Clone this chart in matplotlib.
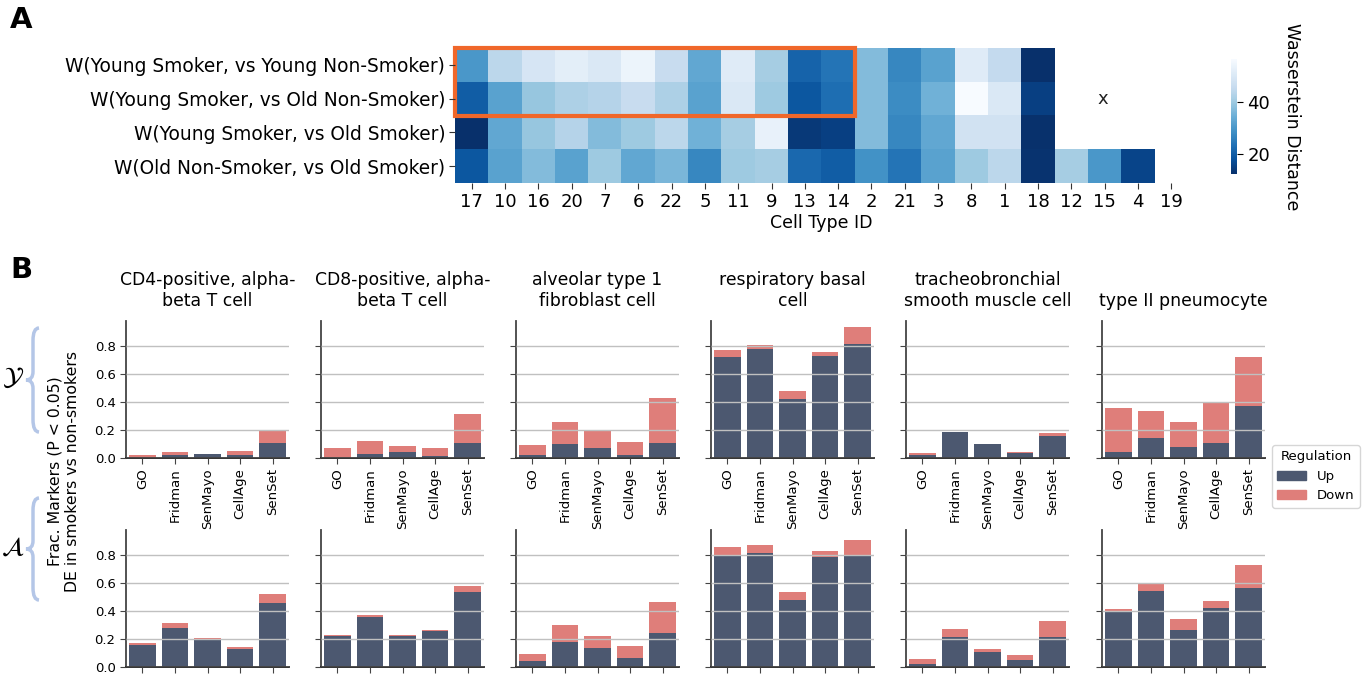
import numpy as np
import matplotlib
matplotlib.use("Agg")
import matplotlib.pyplot as plt
from matplotlib.patches import Rectangle, PathPatch, Patch
from matplotlib.path import Path

nan = np.nan

# Panel A : Wasserstein distances per cell type

cell_ids = ["17", "10", "16", "20", "7", "6", "22", "5", "11", "9", "13", "14",
            "2", "21", "3", "8", "1", "18", "12", "15", "4", "19"]
row_labels = ["W(Young Smoker, vs Young Non-Smoker)",
              "W(Young Smoker, vs Old Non-Smoker)",
              "W(Young Smoker, vs Old Smoker)",
              "W(Old Non-Smoker, vs Old Smoker)"]
w_ys_yns = [30, 44, 49, 52, 50, 54, 46, 33, 51, 41, 21, 24, 37, 27, 32, 51, 45, 12.4, nan, nan, nan, nan]
w_ys_ons = [20, 32, 39, 42, 43, 46, 42, 32, 50, 40, 19, 23, 37, 28, 35, 56.3, 50, 15, nan, nan, nan, nan]
w_ys_os = [12.5, 33, 39, 43, 37, 40, 44, 35, 41, 53, 14, 15, 37, 27, 33, 48, 48, 12.6, nan, nan, nan, nan]
w_ons_os = [19, 32, 37, 32, 40, 33, 36, 27, 40, 41, 22, 20, 29, 24, 32, 40, 44, 13, 41, 30, 16, nan]

# Panel B : fraction of DE markers

gene_sets = ["GO", "Fridman", "SenMayo", "CellAge", "SenSet"]
cell_types = ["CD4-positive, alpha-\nbeta T cell", "CD8-positive, alpha-\nbeta T cell",
              "alveolar type 1\nfibroblast cell", "respiratory basal\ncell",
              "tracheobronchial\nsmooth muscle cell", "type II pneumocyte"]
young_up = [[0.0, 0.024, 0.031, 0.024, 0.11],
            [0.0, 0.031, 0.045, 0.017, 0.11],
            [0.024, 0.103, 0.074, 0.024, 0.11],
            [0.726, 0.783, 0.425, 0.733, 0.819],
            [0.024, 0.189, 0.103, 0.038, 0.16],
            [0.045, 0.146, 0.081, 0.11, 0.375]]
young_down = [[0.024, 0.021, 0.0, 0.029, 0.086],
              [0.074, 0.093, 0.043, 0.057, 0.208],
              [0.072, 0.157, 0.122, 0.093, 0.322],
              [0.05, 0.022, 0.057, 0.022, 0.115],
              [0.014, 0.0, 0.0, 0.007, 0.021],
              [0.316, 0.193, 0.179, 0.286, 0.351]]
old_up = [[0.158, 0.279, 0.193, 0.129, 0.458],
          [0.222, 0.358, 0.222, 0.258, 0.537],
          [0.043, 0.179, 0.136, 0.064, 0.244],
          [0.795, 0.817, 0.48, 0.788, 0.795],
          [0.021, 0.215, 0.107, 0.05, 0.215],
          [0.401, 0.545, 0.265, 0.423, 0.566]]
old_down = [[0.014, 0.036, 0.015, 0.014, 0.065],
            [0.007, 0.014, 0.007, 0.007, 0.043],
            [0.05, 0.122, 0.086, 0.086, 0.222],
            [0.065, 0.057, 0.057, 0.043, 0.115],
            [0.036, 0.057, 0.022, 0.036, 0.115],
            [0.015, 0.05, 0.079, 0.05, 0.165]]

c_up = "#4c5870"
c_down = "#df7e7a"
W, H = 1367, 674


def box(left, top, width, height):
    return [left / W, 1 - (top + height) / H, width / W, height / H]


fig = plt.figure(figsize=(W / 100, H / 100), dpi=100)

# Heatmap

ax = fig.add_axes(box(455, 48, 733, 135))
data = np.ma.masked_invalid(np.array([w_ys_yns, w_ys_ons, w_ys_os, w_ons_os]))
cmap = plt.get_cmap("Blues_r").copy()
cmap.set_bad("white")
im = ax.imshow(data, cmap=cmap, aspect="auto", vmin=np.nanmin(data), vmax=np.nanmax(data),
               interpolation="nearest")
ax.set_xticks(range(len(cell_ids)))
ax.set_xticklabels(cell_ids, fontsize=13)
ax.set_yticks(range(len(row_labels)))
ax.set_yticklabels(row_labels, fontsize=13.4)
ax.set_xlabel("Cell Type ID", fontsize=12.5, labelpad=2)
for s in ax.spines.values():
    s.set_visible(False)
ax.tick_params(length=4, color="#333333", pad=3)
ax.add_patch(Rectangle((-0.5, -0.5), 12, 2, fill=False, edgecolor="#f0672a", lw=3, clip_on=False))
ax.text(18.95, 1.0, "x", fontsize=13, ha="center", va="center", color="#222222")

cax = fig.add_axes(box(1231, 59, 6, 115))
cb = fig.colorbar(im, cax=cax, ticks=[20, 40])
cb.outline.set_visible(False)
cb.ax.tick_params(labelsize=13, length=4)
cb.set_label("Wasserstein Distance", rotation=270, fontsize=12.5, labelpad=22)

# Bar panels

lefts = [126, 321, 516, 711, 906, 1102]
x = np.arange(len(gene_sets))
for r, (ups, downs, top) in enumerate([(young_up, young_down, 321), (old_up, old_down, 530)]):
    for c in range(len(cell_types)):
        bx = fig.add_axes(box(lefts[c], top, 163, 137))
        bx.bar(x, ups[c], width=0.82, color=c_up)
        bx.bar(x, downs[c], width=0.82, bottom=ups[c], color=c_down)
        bx.set_xlim(-0.5, 4.5)
        bx.set_ylim(0, 0.98)
        bx.set_yticks([0, 0.2, 0.4, 0.6, 0.8])
        bx.yaxis.grid(True, color="#c0c0c0", lw=1)
        bx.set_axisbelow(False)
        bx.spines["top"].set_visible(False)
        bx.spines["right"].set_visible(False)
        bx.spines["left"].set_color("#444444")
        bx.spines["bottom"].set_color("#222222")
        bx.spines["left"].set_linewidth(1.3)
        bx.spines["bottom"].set_linewidth(1.3)
        bx.tick_params(labelsize=9.5, length=4, color="#444444")
        bx.set_xticks(x)
        if r == 0:
            bx.set_xticklabels(gene_sets, rotation=90)
            bx.set_title(cell_types[c], fontsize=12.4, pad=11)
        else:
            bx.set_xticklabels([])
        if c == 0:
            bx.set_yticklabels(["0.0", "0.2", "0.4", "0.6", "0.8"])
        else:
            bx.set_yticklabels([])

fig.legend(handles=[Patch(color=c_up, label="Up"), Patch(color=c_down, label="Down")],
           title="Regulation", loc="upper left", bbox_to_anchor=(1272 / W, 1 - 445 / H),
           fontsize=9.5, title_fontsize=9.5, borderaxespad=0, handlelength=2.2,
           edgecolor="#cccccc")

fig.text(64 / W, 1 - 471 / H, "Frac. Markers (P < 0.05)\nDE in smokers vs non-smokers",
         rotation=90, ha="center", va="center", fontsize=11.3, multialignment="center")

# Braces and group letters

ov = fig.add_axes([0, 0, 1, 1])
ov.set_xlim(0, W)
ov.set_ylim(H, 0)
ov.axis("off")


def brace(y0, y1, xr=39, xm=33, xl=26):
    ym = (y0 + y1) / 2
    h = y1 - y0
    verts = [(xr, y0), (xm, y0), (xm, y0 + 0.12 * h),
             (xm, ym - 0.08 * h), (xm, ym), (xl, ym),
             (xm, ym), (xm, ym + 0.08 * h),
             (xm, y1 - 0.12 * h), (xm, y1), (xr, y1)]
    codes = [Path.MOVETO, Path.CURVE3, Path.CURVE3,
             Path.LINETO, Path.CURVE3, Path.CURVE3,
             Path.CURVE3, Path.CURVE3,
             Path.LINETO, Path.CURVE3, Path.CURVE3]
    ov.add_patch(PathPatch(Path(verts, codes), fill=False, edgecolor="#b4c6e7", lw=2.5))


brace(328, 432)
brace(498, 600)
ov.text(13, 378, r"$\mathcal{Y}$", fontsize=19, ha="center", va="center")
ov.text(13, 548, r"$\mathcal{A}$", fontsize=19, ha="center", va="center")
ov.text(10, 20, "A", fontsize=21, fontweight="bold", ha="left", va="center")
ov.text(10, 270, "B", fontsize=21, fontweight="bold", ha="left", va="center")

fig.savefig("out.png", dpi=100)
